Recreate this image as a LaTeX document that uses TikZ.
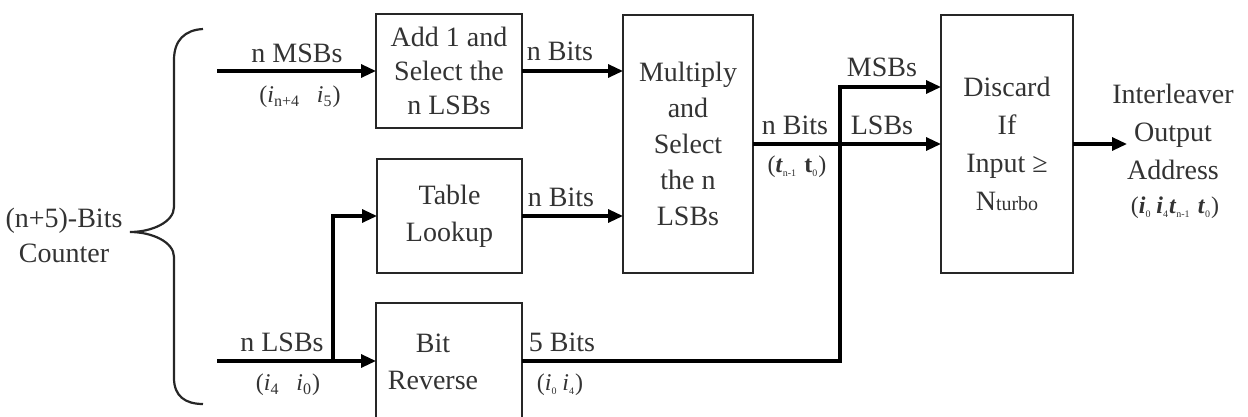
\documentclass[tikz,border=0pt]{standalone}
\usepackage{fontspec}
\setmainfont{Liberation Serif}
\usetikzlibrary{arrows.meta}
% italic index with subscript
\newcommand\ix[2]{\textit{#1}\textsubscript{#2}}
\newcommand\bx[2]{\textbf{\textit{#1}}\textsubscript{#2}}
\begin{document}
\begin{tikzpicture}[x=0.5pt,y=-0.5pt,
  font=\fontsize{14}{18}\selectfont,
  every node/.style={text=black!80},
  blk/.style={draw=black!85,line width=1.1pt,inner sep=0pt,outer sep=0pt,align=center},
  flow/.style={draw=black,line width=1.6pt,-{Triangle[length=7.5pt,width=6.5pt]}},
  wire/.style={draw=black,line width=1.6pt},
  idx/.style={font=\fontsize{12}{14}\selectfont},
  brace/.style={draw=black!85,line width=1.1pt}]
\useasboundingbox (0,0) rectangle (1248,417);

% processing blocks
\node[blk,minimum width=73pt,minimum height=57pt,font=\fontsize{14}{17}\selectfont] (add) at (449,71)
  {Add 1 and\\Select the\\n LSBs};
\node[blk,minimum width=72.5pt,minimum height=57pt,font=\fontsize{14}{18.5}\selectfont] (tab) at (449.5,216)
  {Table\\Lookup};
\node[blk,minimum width=73pt,minimum height=58pt] (br) at (449,361) {};
\node[align=center,font=\fontsize{14}{18.5}\selectfont] (brtxt) at (433,362) {Bit\\Reverse};
\node[blk,minimum width=65pt,minimum height=129pt] (mul) at (688,144)
  {Multiply\\and\\Select\\the n\\LSBs};
\node[blk,minimum width=66pt,minimum height=129pt,font=\fontsize{14}{19}\selectfont] (dis) at (1007,144)
  {Discard\\If\\Input ≥\\N{\fontsize{10}{10}\selectfont turbo}};

% counter and its brace
\node[align=center,font=\fontsize{14}{17.5}\selectfont] (cnt) at (64,235) {(n+5)-Bits\\Counter};
\draw[brace] (203,29) .. controls (185,30) and (174,40) .. (174,60)
  -- (174,207) .. controls (174,222) and (152,232) .. (130,232)
  .. controls (152,232) and (174,242) .. (174,257)
  -- (174,378) .. controls (174,396) and (185,404) .. (203,404);

% connectors
\coordinate (inTop) at (217,71);
\coordinate (inBot) at (217,361);
\coordinate (jl) at (333,361);
\coordinate (msb) at (840,87);
\coordinate (out) at (1127,144);

\draw[flow] (inTop) -- (add.west);
\draw[flow] (add.east) -- (add.east -| mul.west);
\draw[flow] (tab.east) -- (tab.east -| mul.west);
\draw[flow] (inBot) -- (br.west);
\draw[flow] (jl) |- (tab.west);
\draw[flow] (br.east) -| (msb) -- (msb -| dis.west);
\draw[flow] (mul.east) -- (mul.east -| dis.west);
\draw[flow] (dis.east) -- (out);

% connector labels
\node (l1) at (297,53) {n MSBs};
\node[idx] (l1i) at (300,97) {(\ix{i}{n+4}\hspace{0.7em}\ix{i}{5})};
\node (l2) at (560,51) {n Bits};
\node (l3) at (561,197) {n Bits};
\node (l4) at (282,342) {n LSBs};
\node[idx] (l4i) at (288,385) {(\ix{i}{4}\hspace{0.7em}\ix{i}{0})};
\node (l5) at (562,342) {5 Bits};
\node[idx] (l5i) at (560,385) {(\ix{i}{\tiny 0}\hspace{0.2em}\ix{i}{\tiny 4})};
\node (l6) at (795,125) {n Bits};
\node[idx] (l6i) at (797,167) {(\bx{t}{\tiny n-1}\hspace{0.3em}\textbf{t}\textsubscript{\tiny 0})};
\node (l7) at (882,67) {MSBs};
\node (l8) at (882,125) {LSBs};
\node[align=center,font=\fontsize{14}{19}\selectfont] (res) at (1173,132)
  {Interleaver\\Output\\Address};
\node[idx] (resi) at (1175,208) {(\bx{i}{\tiny 0}\hspace{0.2em}\bx{i}{\tiny 4}\bx{t}{\tiny n-1}\hspace{0.3em}\bx{t}{\tiny 0})};
\end{tikzpicture}
\end{document}
